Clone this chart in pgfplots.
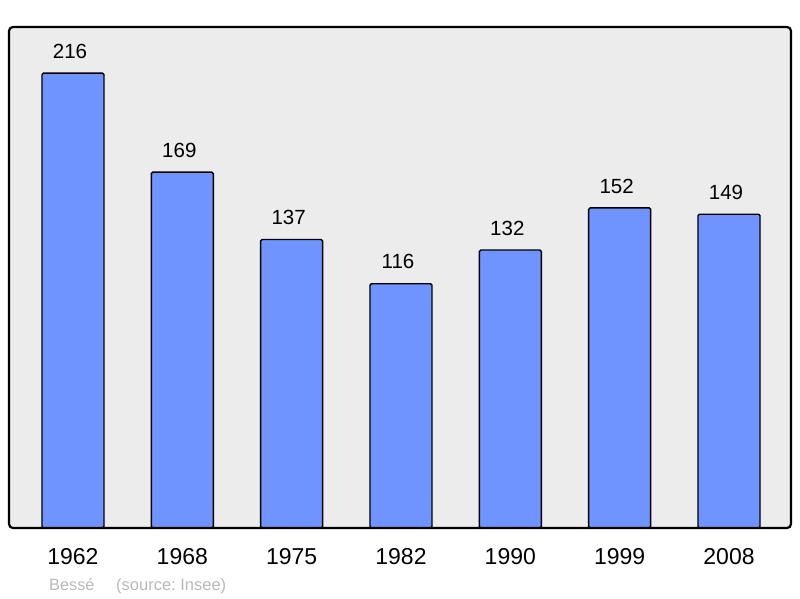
\documentclass[border=0pt]{standalone}
\usepackage{pgfplots}
\pgfplotsset{compat=1.18}
\usepackage{fontspec}
\setmainfont{Liberation Sans}
\definecolor{bgc}{RGB}{236,236,236}
\definecolor{barc}{RGB}{112,148,255}
\definecolor{srcc}{RGB}{185,185,185}
\begin{document}
\begin{tikzpicture}[x=1pt,y=1pt]
\useasboundingbox (-9,-70) rectangle (791,528);
\begin{axis}[
  at={(0,0)}, anchor=south west,
  scale only axis, width=782pt, height=501pt,
  /pgf/number format/assume math mode=true,
  xmin=-0.585, xmax=6.567, ymin=0, ymax=237.9,
  axis line style={draw=none},
  axis background/.style={fill=bgc},
  ytick=\empty,
  xtick={0,1,2,3,4,5,6},
  xticklabels={1962,1968,1975,1982,1990,1999,2008},
  major tick length=0pt,
  xticklabel style={font=\fontsize{23}{27}\selectfont, yshift=-17pt},
  ybar, bar width=62pt,
  nodes near coords,
  every node near coord/.append style={font=\fontsize{20.5}{24}\selectfont, yshift=10.5pt, xshift=-3pt},
  clip=false,
]
\addplot[fill=barc, draw=black, line width=1.4pt, rounded corners=1.5pt] coordinates {
(0,216) (1,169) (2,137) (3,116) (4,132) (5,152) (6,149)};
\draw[black, line width=2.2pt, rounded corners=4pt] (rel axis cs:0,0) rectangle (rel axis cs:1,1);
\end{axis}
\node[anchor=base west, text=srcc, font=\fontsize{16.3}{19}\selectfont, inner sep=0pt] at (40,-62) {Bessé};
\node[anchor=base west, text=srcc, font=\fontsize{16.5}{19}\selectfont, inner sep=0pt] at (107,-62) {(source:\ Insee)};
\end{tikzpicture}
\end{document}
